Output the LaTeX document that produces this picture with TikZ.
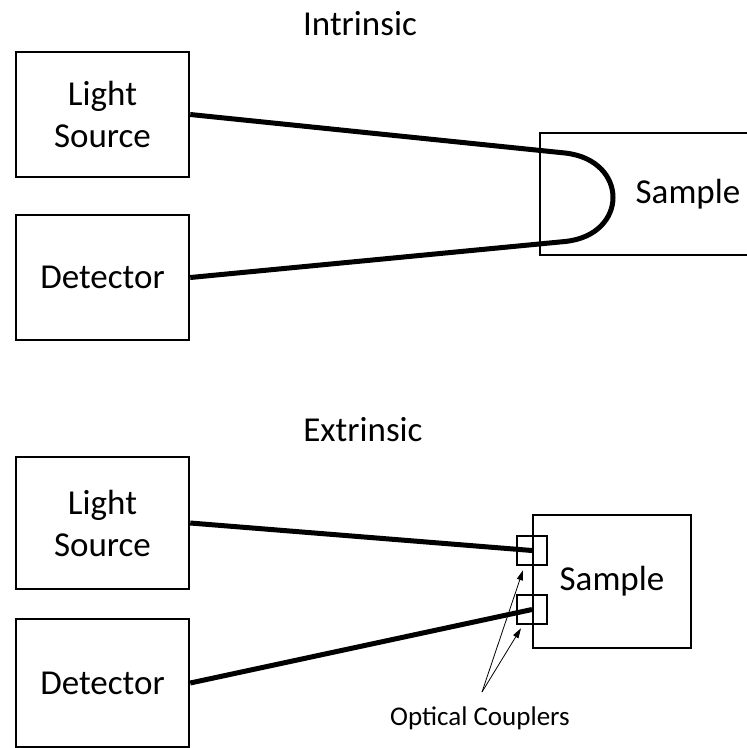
\documentclass[tikz,border=0pt]{standalone}
\usepackage{fontspec}
\setmainfont{Carlito}
\usetikzlibrary{arrows.meta}
\begin{document}
\begin{tikzpicture}[x=1pt,y=-1pt,
        box/.style={draw,line width=2.5pt,minimum width=173pt,minimum height=125pt,
            inner sep=0pt,align=center,font=\fontsize{35}{42}\selectfont},
        title/.style={font=\fontsize{35}{42}\selectfont},
        coupler/.style={draw,line width=2.5pt,minimum width=30pt,minimum height=29pt,inner sep=0pt},
        fiber/.style={line width=5pt},
        pointer/.style={line width=0.8pt,-{Triangle[length=10pt,width=6pt]}}]
        \clip(0,0)rectangle(747,748);
        \node[title](intr)at(360,24){Intrinsic};
        \node[box](src1)at(102.5,114.5){Light\\Source};
        \node[box](det1)at(102.5,277.5){Detector};
        \node[box,minimum width=296pt,minimum height=122pt](smp1)at(688,194){Sample};
        \coordinate(top)at(565,153);
        \coordinate(bot)at(565,241.5);
        \draw[fiber](src1.east)--(top)..controls(629,160)and(629,235)..(bot)--(det1.east);
        \node[title](extr)at(363,430){Extrinsic};
        \node[box,minimum height=132pt](src2)at(102.5,523){Light\\Source};
        \node[box,minimum height=128pt](det2)at(102.5,683){Detector};
        \node[box,minimum width=158pt,minimum height=133pt](smp2)at(612,581.5){Sample};
        \node[coupler](cp1)at(532,550.5){};
        \node[coupler](cp2)at(532,609.5){};
        \draw[fiber](src2.east)--(cp1.center);
        \draw[fiber](det2.east)--(cp2.center);
        \node[font=\fontsize{27}{32}\selectfont](oc)at(480,718){Optical Couplers};
        \coordinate(fork)at(482,692);
        \draw[pointer](fork)--([xshift=-9pt,yshift=-4pt]cp1.south);
        \draw[pointer](fork)--([xshift=-11pt,yshift=-3pt]cp2.south);
    \end{tikzpicture}
\end{document}
